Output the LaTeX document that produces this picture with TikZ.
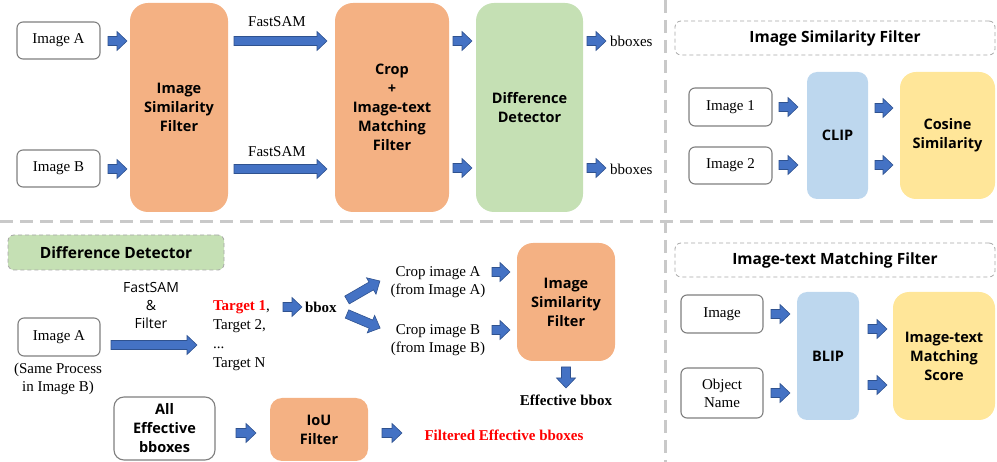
\documentclass[tikz,border=0pt]{standalone}
\usepackage{fontspec}
\setmainfont{Liberation Serif}
\setsansfont{Open Sans}
\definecolor{orangebox}{HTML}{F4B183}
\definecolor{greenbox}{HTML}{C5E0B4}
\definecolor{bluebox}{HTML}{BDD7EE}
\definecolor{yellowbox}{HTML}{FFE699}
\definecolor{arrowfill}{HTML}{4472C4}
\definecolor{arrowline}{HTML}{2F528F}
\definecolor{boxgray}{HTML}{7F7F7F}
\definecolor{divgray}{HTML}{C9C9C9}
\definecolor{titlegray}{HTML}{A6A6A6}
\definecolor{redtext}{HTML}{FF0000}
\newcommand\barrow[4]{%
  \begin{scope}[shift={(#1,#2)},rotate=#4]
    \draw[blockarrow] (0,-4.5) -- ({#3-10},-4.5) -- ({#3-10},-9.5) -- (#3,0) -- ({#3-10},9.5) -- ({#3-10},4.5) -- (0,4.5) -- cycle;
  \end{scope}}
\tikzset{
  every node/.style={inner sep=0pt, outer sep=0pt},
  blockarrow/.style={fill=arrowfill, draw=arrowline, line width=0.6pt, line join=miter},
  serif/.style={font=\fontsize{15}{18}\selectfont\rmfamily},
  sansb/.style={font=\fontsize{14.5}{19}\selectfont\sffamily\bfseries},
  wbox/.style={draw=boxgray, line width=1.1pt, rounded corners=6pt, fill=white, align=center},
  cbox/.style={rounded corners=#1, align=center, sansb},
  cbox/.default=16pt,
  titlebox/.style={draw=titlegray, line width=0.8pt, dash pattern=on 4pt off 3pt, rounded corners=6pt, align=center, font=\fontsize{15.5}{17}\selectfont\sffamily\bfseries},
  divider/.style={draw=divgray, line width=3pt, dash pattern=on 13pt off 7pt},
  plain/.style={serif, align=center},
}
\begin{document}
\begin{tikzpicture}[x=1pt,y=-1pt]
\useasboundingbox (0,0) rectangle (997,462);
% dividers
\draw[divider] (665,0) -- (665,462);
\draw[divider] (0,222) -- (997,222);

% ---------- top left ----------
\node[wbox, serif, minimum width=83pt, minimum height=37pt] (imgA) at (58.5,40.5) {Image A};
\node[wbox, serif, minimum width=83pt, minimum height=37pt] (imgB) at (58.5,168.5) {Image B};
\node[cbox=18pt, fill=orangebox, minimum width=98pt, minimum height=209pt] (isf) at (179,107.5) {Image\\Similarity\\Filter};
\node[cbox=18pt, fill=orangebox, minimum width=114pt, minimum height=209pt] (crop) at (392,107.5) {Crop\\+\\Image-text\\Matching\\Filter};
\node[cbox=18pt, fill=greenbox, minimum width=107pt, minimum height=209pt] (dd) at (529.5,107.5) {Difference\\Detector};
\node[plain] (fs1) at (277,22) {FastSAM};
\node[plain] (fs2) at (277,152) {FastSAM};
\node[serif, anchor=west] (bb1) at (610,41) {bboxes};
\node[serif, anchor=west] (bb2) at (610,169) {bboxes};
\barrow{108}{41}{19}{0}
\barrow{108}{169}{19}{0}
\barrow{234}{41}{93}{0}
\barrow{234}{169}{93}{0}
\barrow{453}{41}{19}{0}
\barrow{453}{168}{19}{0}
\barrow{587}{41}{19}{0}
\barrow{587}{168}{19}{0}

% ---------- top right ----------
\node[titlebox, minimum width=320pt, minimum height=34pt] (t1) at (835,38) {Image Similarity Filter};
\node[wbox, serif, minimum width=83pt, minimum height=38pt] (img1) at (730.5,107) {Image 1};
\node[wbox, serif, minimum width=83pt, minimum height=37pt] (img2) at (730.5,165.5) {Image 2};
\node[cbox=10pt, fill=bluebox, minimum width=61pt, minimum height=127pt] (clip) at (837.5,135.5) {CLIP};
\node[cbox=16pt, fill=yellowbox, minimum width=95pt, minimum height=127pt] (cos) at (947.5,135.5) {Cosine\\Similarity};
\barrow{779}{107}{19}{0}
\barrow{779}{165}{19}{0}
\barrow{875}{108}{18}{0}
\barrow{875}{165}{18}{0}

% ---------- bottom left ----------
\node[titlebox, fill=greenbox, minimum width=216pt, minimum height=35pt] (t3) at (116,252.5) {Difference Detector};
\node[align=center, font=\fontsize{14}{18}\selectfont\sffamily] (fsf) at (151,306) {FastSAM\\\&\\Filter};
\node[wbox, serif, minimum width=82pt, minimum height=38pt] (imgA2) at (59,337) {Image A};
\node[plain] (same) at (58,379) {(Same Process\\in Image B)};
\barrow{111}{345}{86}{0}
\node[serif, align=left, anchor=west, font=\fontsize{15}{19}\selectfont\rmfamily] (targets) at (213,335.5) {\textcolor{redtext}{\textbf{Target 1}},\\Target 2,\\...\\Target N};
\barrow{283}{307}{19}{0}
\node[serif, anchor=west, font=\fontsize{15}{18}\selectfont\rmfamily\bfseries] (bbox) at (305,307) {bbox};
\barrow{347}{300}{38}{30}
\barrow{347}{314}{36}{-23}
\node[plain] (cropA) at (438,282) {Crop image A\\(from Image A)};
\node[plain] (cropB) at (438,340) {Crop image B\\(from Image B)};
\barrow{492}{272}{18}{0}
\barrow{492}{330}{18}{0}
\node[cbox=16pt, fill=orangebox, minimum width=98pt, minimum height=118pt] (isf2) at (566,302) {Image\\Similarity\\Filter};
\barrow{566}{367}{21}{-90}
\node[font=\fontsize{15}{18}\selectfont\rmfamily\bfseries] (eff) at (566,400) {Effective bbox};
\node[wbox, minimum width=101pt, minimum height=63pt, rounded corners=10pt, sansb] (alleff) at (164.5,428.5) {All\\Effective\\bboxes};
\barrow{236}{433}{20}{0}
\node[cbox=12pt, fill=orangebox, minimum width=98pt, minimum height=63pt] (iou) at (319,429.5) {IoU\\Filter};
\barrow{382}{433}{20}{0}
\node[font=\fontsize{15}{18}\selectfont\rmfamily\bfseries, text=redtext] (filt) at (504,435) {Filtered Effective bboxes};

% ---------- bottom right ----------
\node[titlebox, minimum width=320pt, minimum height=34pt] (t2) at (835,260) {Image-text Matching Filter};
\node[wbox, serif, minimum width=82pt, minimum height=38pt] (img3) at (722,314) {Image};
\node[wbox, serif, minimum width=82pt, minimum height=50pt] (obj) at (722,393) {Object\\Name};
\node[cbox=10pt, fill=bluebox, minimum width=62pt, minimum height=128pt] (blip) at (828,356) {BLIP};
\node[cbox=16pt, fill=yellowbox, minimum width=102pt, minimum height=128pt] (score) at (944,356) {Image-text\\Matching\\Score};
\barrow{771}{314}{19}{0}
\barrow{771}{393}{19}{0}
\barrow{868}{329}{19}{0}
\barrow{868}{385}{19}{0}
\end{tikzpicture}
\end{document}
